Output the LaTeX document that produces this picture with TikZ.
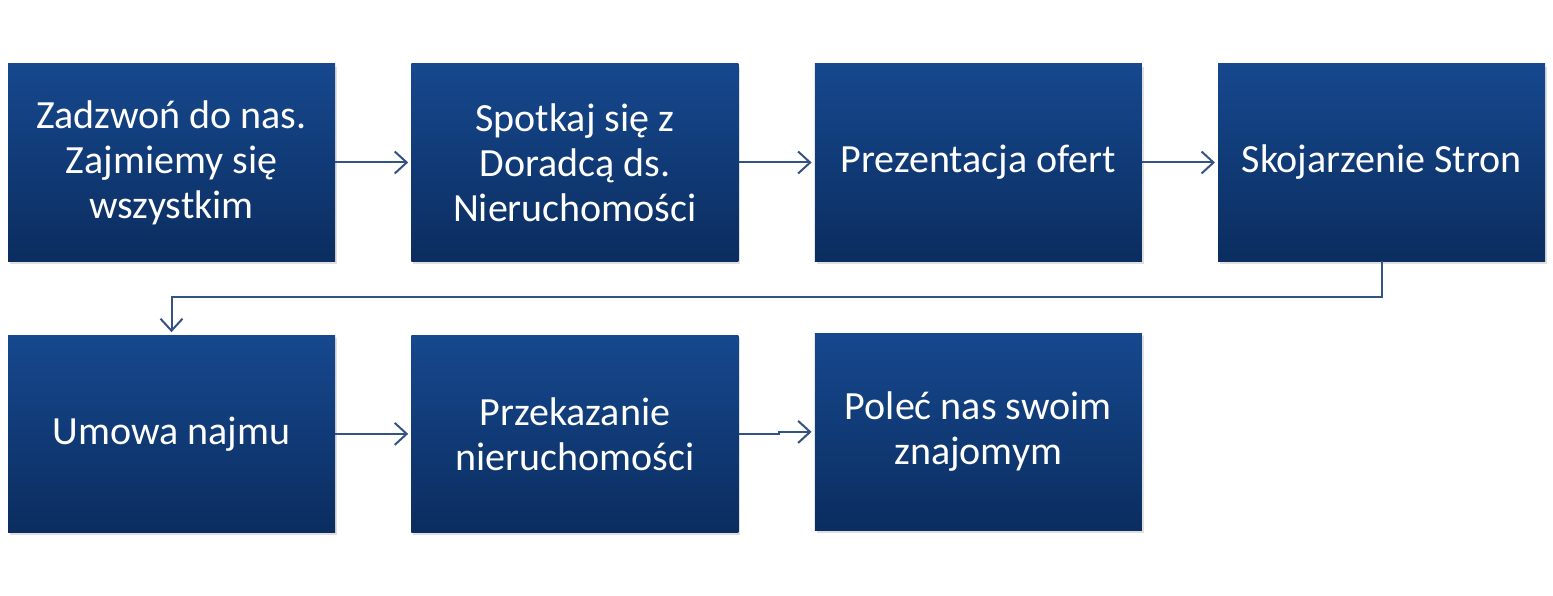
\documentclass[tikz,border=0pt]{standalone}
\usepackage{fontspec}
\setmainfont{Carlito}
\usetikzlibrary{positioning,shadows,arrows.meta}
\definecolor{boxtop}{RGB}{22,72,142}
\definecolor{boxbot}{RGB}{11,45,95}
\definecolor{link}{RGB}{52,82,132}

\begin{document}
\begin{tikzpicture}[x=1pt,y=-1pt,
    stepbox/.style={rectangle, top color=boxtop, bottom color=boxbot, draw=none,
        minimum width=327pt, minimum height=197pt, inner sep=0pt,
        text=white, align=center, font=\fontsize{40}{45}\selectfont,
        drop shadow={shadow xshift=2pt, shadow yshift=-3pt, opacity=0.25}},
    flow/.style={draw=link, line width=2pt, shorten >=3pt,
        -{Straight Barb[length=12pt,width=22pt,line width=2pt]}},
    node distance=76pt and 76pt]
\useasboundingbox (0,0) rectangle (1553,596);
\node [stepbox] (call) at (171.5,162.5) {Zadzwoń do nas.\\Zajmiemy się\\wszystkim};
\node [stepbox, right=of call] (meet) {Spotkaj się z\\Doradcą ds.\\Nieruchomości};
\node [stepbox, right=of meet] (offer) {Prezentacja ofert};
\node [stepbox, right=of offer] (match) {Skojarzenie Stron};
\node [stepbox, below=74pt of call] (lease) {Umowa najmu};
\node [stepbox, right=of lease] (handover) {Przekazanie\\nieruchomości};
\node [stepbox, right=of handover, yshift=2pt] (refer) {Poleć nas swoim\\znajomym};

\draw [flow] (call) -- (meet);
\draw [flow] (meet) -- (offer);
\draw [flow] (offer) -- (match);
\draw [flow] (match.south) -- ++(0,36) -| (lease.north);
\draw [flow] (lease) -- (handover);
\draw [flow] (handover.east) -- ++(40,0) |- (refer.west);
\end{tikzpicture}
\end{document}
